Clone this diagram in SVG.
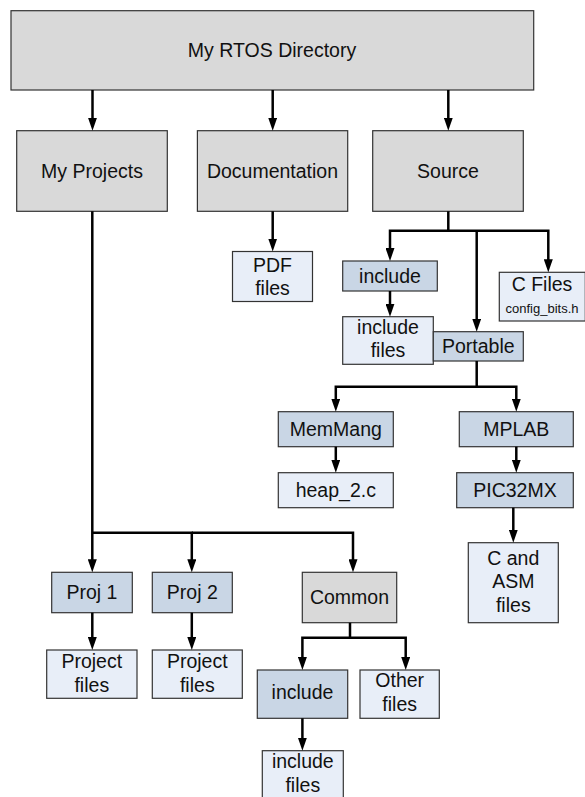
<svg xmlns="http://www.w3.org/2000/svg" width="585" height="797" viewBox="0 0 585 797">
  <style>
    .box rect { stroke: #333; stroke-width: 1.2; }
    .dir rect { fill: #d9d9d9; }
    .sub rect { fill: #c9d6e5; }
    .file rect { fill: #e8eef8; }
    text { font-family: "Liberation Sans", Arial, sans-serif; font-size: 19.5px; fill: #111; text-anchor: middle; }
    text.small { font-size: 13px; }
    .conn path { fill: none; stroke: #000; stroke-width: 2.5; stroke-linejoin: miter; }
  </style>
  <defs>
    <marker id="arrow" viewBox="0 0 13 9" refX="1" refY="4.5" markerWidth="13" markerHeight="9" markerUnits="userSpaceOnUse" orient="auto">
      <path d="M0,0 L13,4.5 L0,9 Z" fill="#000"/>
    </marker>
  </defs>

  <!-- directory nodes -->
  <g id="root" class="box dir">
    <rect x="11" y="10.7" width="522.7" height="79.3"/>
    <text x="272" y="57">My RTOS Directory</text>
  </g>
  <g id="my-projects" class="box dir">
    <rect x="16.7" y="130.7" width="150.6" height="80.6"/>
    <text x="92" y="178">My Projects</text>
  </g>
  <g id="documentation" class="box dir">
    <rect x="197.4" y="130.7" width="150.3" height="80.6"/>
    <text x="272.5" y="178">Documentation</text>
  </g>
  <g id="source" class="box dir">
    <rect x="372.7" y="130.7" width="150.6" height="80.6"/>
    <text x="448" y="178">Source</text>
  </g>
  <g id="pdf-files" class="box file">
    <rect x="232.5" y="251.5" width="80" height="50"/>
    <text x="272.5" y="272">PDF</text>
    <text x="272.5" y="294.5">files</text>
  </g>
  <g id="src-include" class="box sub">
    <rect x="342.7" y="261" width="94.6" height="30"/>
    <text x="390" y="283">include</text>
  </g>
  <g id="src-include-files" class="box file">
    <rect x="342.7" y="316.7" width="90.6" height="47.6"/>
    <text x="388" y="334">include</text>
    <text x="388" y="356.7">files</text>
  </g>
  <g id="portable" class="box sub">
    <rect x="433.3" y="331.7" width="90" height="29.3"/>
    <text x="478.3" y="353">Portable</text>
  </g>
  <g id="c-files" class="box file">
    <rect x="499.3" y="272.3" width="86" height="48.7"/>
    <text x="542" y="291">C Files</text>
    <text class="small" x="542" y="312.7">config_bits.h</text>
  </g>
  <g id="memmang" class="box sub">
    <rect x="278.3" y="411.7" width="115" height="35"/>
    <text x="335.8" y="435.8">MemMang</text>
  </g>
  <g id="mplab" class="box sub">
    <rect x="459.3" y="411.7" width="114" height="35"/>
    <text x="516.3" y="435.8">MPLAB</text>
  </g>
  <g id="heap-2" class="box file">
    <rect x="278.3" y="472.7" width="115" height="35"/>
    <text x="335.8" y="496.8">heap_2.c</text>
  </g>
  <g id="pic32mx" class="box sub">
    <rect x="456.7" y="472.7" width="116.6" height="35"/>
    <text x="515" y="496.8">PIC32MX</text>
  </g>
  <g id="c-asm-files" class="box file">
    <rect x="468.3" y="542.7" width="90" height="80"/>
    <text x="513.3" y="565">C and</text>
    <text x="513.3" y="588.3">ASM</text>
    <text x="513.3" y="611.7">files</text>
  </g>
  <g id="proj-1" class="box sub">
    <rect x="51.7" y="572.3" width="80.6" height="40.4"/>
    <text x="92" y="599.2">Proj 1</text>
  </g>
  <g id="proj-2" class="box sub">
    <rect x="152.3" y="572.3" width="80" height="40.4"/>
    <text x="192.3" y="599.2">Proj 2</text>
  </g>
  <g id="common" class="box dir">
    <rect x="302.3" y="572.3" width="94.4" height="50.4"/>
    <text x="349.5" y="604">Common</text>
  </g>
  <g id="project-files-1" class="box file">
    <rect x="46.7" y="650" width="90.3" height="48.3"/>
    <text x="91.8" y="668.3">Project</text>
    <text x="91.8" y="691.7">files</text>
  </g>
  <g id="project-files-2" class="box file">
    <rect x="152.3" y="650" width="90" height="48.3"/>
    <text x="197.3" y="668.3">Project</text>
    <text x="197.3" y="691.7">files</text>
  </g>
  <g id="common-include" class="box sub">
    <rect x="257.3" y="670" width="90.4" height="48.3"/>
    <text x="302.5" y="699.3">include</text>
  </g>
  <g id="other-files" class="box file">
    <rect x="360" y="670" width="79.3" height="48.3"/>
    <text x="399.7" y="686.7">Other</text>
    <text x="399.7" y="711">files</text>
  </g>
  <g id="common-include-files" class="box file">
    <rect x="262.3" y="750.7" width="81" height="60"/>
    <text x="302.8" y="768.3">include</text>
    <text x="302.8" y="791.7">files</text>
  </g>

  <!-- connectors -->
  <g id="connectors" class="conn">
    <path d="M92.5,90 V118.7" marker-end="url(#arrow)"/>
    <path d="M272.7,90 V118.7" marker-end="url(#arrow)"/>
    <path d="M448.3,90 V118.7" marker-end="url(#arrow)"/>
    <path d="M272.7,211.3 V239.5" marker-end="url(#arrow)"/>
    <path d="M448.3,211.3 V230.7 H390 V249" marker-end="url(#arrow)"/>
    <path d="M448.3,230.7 H548.3 V260.3" marker-end="url(#arrow)"/>
    <path d="M476.7,230.7 V319.7" marker-end="url(#arrow)"/>
    <path d="M390,291 V304.7" marker-end="url(#arrow)"/>
    <path d="M476.7,361 V386.7 H335.8 V399.7" marker-end="url(#arrow)"/>
    <path d="M476.7,386.7 H516.3 V399.7" marker-end="url(#arrow)"/>
    <path d="M335.8,446.7 V460.7" marker-end="url(#arrow)"/>
    <path d="M516.3,446.7 V460.7" marker-end="url(#arrow)"/>
    <path d="M513.3,507.7 V530.7" marker-end="url(#arrow)"/>
    <path d="M92.3,211.3 V560.3" marker-end="url(#arrow)"/>
    <path d="M92.3,532.7 H191.8 V560.3" marker-end="url(#arrow)"/>
    <path d="M191.8,532.7 H353 V560.3" marker-end="url(#arrow)"/>
    <path d="M92.3,612.7 V638" marker-end="url(#arrow)"/>
    <path d="M191.8,612.7 V638" marker-end="url(#arrow)"/>
    <path d="M350,622.7 V637.7 H302.4 V658" marker-end="url(#arrow)"/>
    <path d="M350,637.7 H405.7 V658" marker-end="url(#arrow)"/>
    <path d="M302.4,718.3 V738.7" marker-end="url(#arrow)"/>
  </g>
</svg>
